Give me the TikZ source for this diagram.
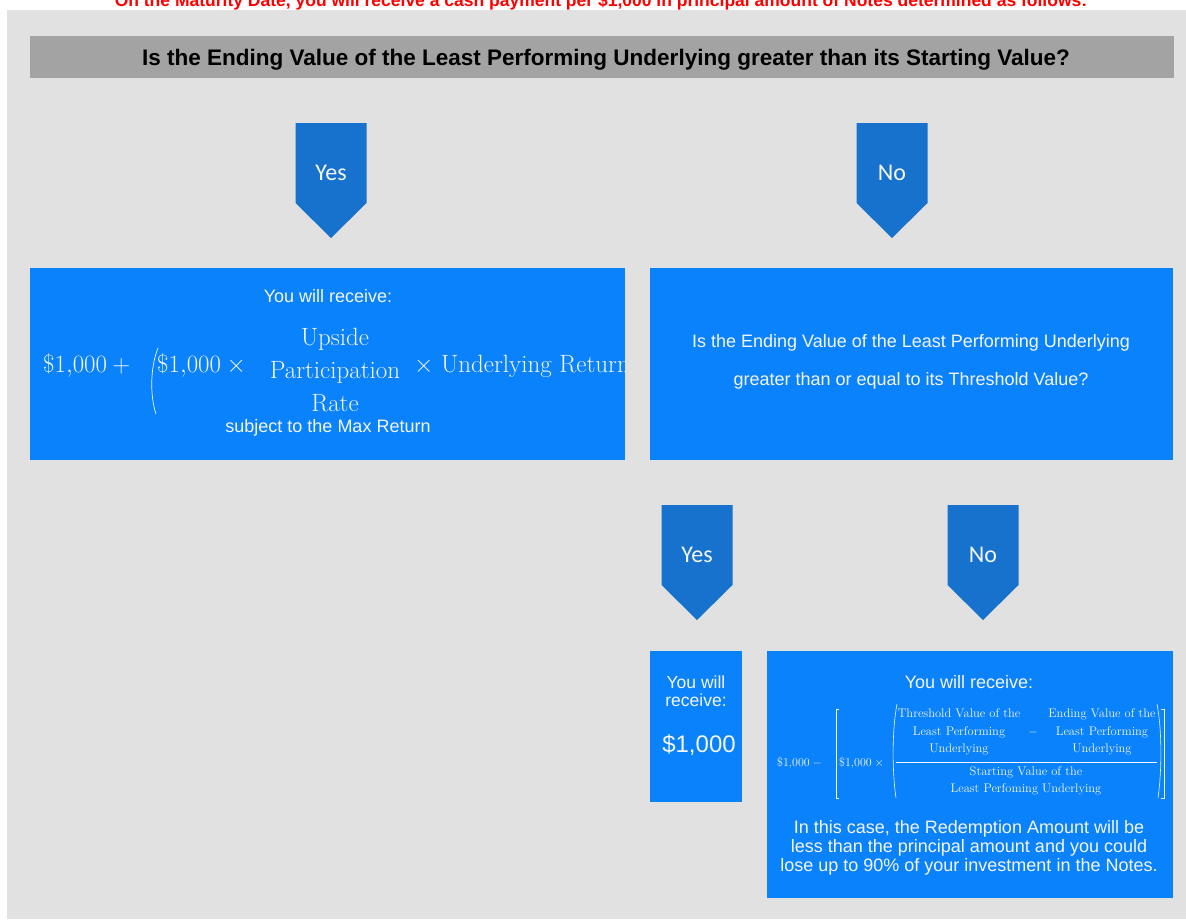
\documentclass[tikz,border=0pt]{standalone}
\usepackage{fontspec}
\setsansfont{Liberation Sans}
\newfontfamily\calib{Carlito}
\usepackage{amsmath}
\usepackage{tikz}
\usetikzlibrary{positioning}
\definecolor{pagegrey}{HTML}{E1E1E1}
\definecolor{bargrey}{HTML}{A3A3A3}
\definecolor{boxblue}{HTML}{0A82FC}
\definecolor{tipblue}{HTML}{1672CC}
\definecolor{softwhite}{HTML}{F4F6FA}
\tikzset{
	panel/.style={rectangle, fill=boxblue, anchor=north west, inner sep=0pt},
	choice/.style={text=softwhite, font=\calib\fontsize{24}{26}\selectfont},
	plain/.style={text=softwhite, font=\sffamily\fontsize{18}{19}\selectfont, align=center, inner sep=0pt},
	formula/.style={text=softwhite, font=\rmfamily\fontsize{25}{33}\selectfont, inner sep=0pt},
	small/.style={text=softwhite, font=\rmfamily\fontsize{12.5}{17.5}\selectfont, inner sep=0pt},
	delim/.style={draw=softwhite, line width=0.9pt}
}

\begin{document}
\begin{tikzpicture}[x=1pt,y=-1pt]
		\useasboundingbox (0,0) rectangle (1186,919);
		\clip (0,0) rectangle (1186,919);
		
		% Fond
		\fill[pagegrey] (7,10) rectangle (1186,919);
		\node[text=red, font=\sffamily\bfseries\fontsize{17.5}{20}\selectfont, anchor=base] (header) at (601,6.5)
			{On the Maturity Date, you will receive a cash payment per \$1,000 in principal amount of Notes determined as follows:};
		
		% Question principale
		\node[rectangle, fill=bargrey, minimum width=1144, minimum height=42, anchor=north west] (question) at (30,36) {};
		\node[font=\sffamily\bfseries\fontsize{22.5}{24}\selectfont, anchor=base] (questiontext) at (606,65) {Is the Ending Value of the Least Performing Underlying greater than its Starting Value?};
		
		% Fleches oui / non
		\foreach \nm/\cx/\cy/\lbl in {yesA/331/123/Yes, noA/892/123/No, yesB/697/505/Yes, noB/983/505/No}{
			\fill[tipblue] (\cx-35.5,\cy) -- (\cx+35.5,\cy) -- (\cx+35.5,\cy+80) -- (\cx,\cy+115) -- (\cx-35.5,\cy+80) -- cycle;
			\node[choice] (\nm) at (\cx,\cy+50) {\lbl};
		}
		
		% Cadres
		\node[panel, minimum width=595, minimum height=192] (gainbox) at (30,268) {};
		\node[panel, minimum width=523, minimum height=192] (testbox) at (650,268) {};
		\node[panel, minimum width=92, minimum height=151] (parbox) at (650,651) {};
		\node[panel, minimum width=406, minimum height=247] (lossbox) at (767,651) {};
		
		% Cadre gain
		\node[plain] (gainhead) at (328,296) {You will receive:};
		\begin{scope}
			\clip (30,268) rectangle (625,460);
			\node[formula, anchor=base west] (gainlead) at (43,372) {$\$1{,}000 + {}$};
			\draw[delim, line width=0.7pt] (158,348) .. controls (150,368) and (150,396) .. (156,414);
			\node[formula, anchor=base west] (gainbase) at (157,372) {$\$1{,}000 \times {}$};
			\node[formula, align=center] (gainrate) at (335,370) {Upside\\Participation\\Rate};
			\node[formula, anchor=base west] (gainret) at (414,372) {$\times$ Underlying Return};
		\end{scope}
		\node[plain] (gaincap) at (328,428) {subject to the Max Return};
		
		% Cadre seuil
		\node[plain, font=\sffamily\fontsize{18}{38}\selectfont] (testtext) at (911,362)
			{Is the Ending Value of the Least Performing Underlying\\greater than or equal to its Threshold Value?};
		
		% Cadre au pair
		\node[plain, font=\sffamily\fontsize{17.5}{18}\selectfont] (parhead) at (696,691) {You will\\receive:};
		\node[plain, font=\sffamily\fontsize{24}{26}\selectfont] (paramount) at (699,745) {\$1,000};
		
		% Cadre perte
		\node[plain] (losshead) at (969,682) {You will receive:};
		\node[small, anchor=west] (losslead) at (777,763) {$\$1{,}000 - {}$};
		\node[small, anchor=west] (lossbase) at (839,763) {$\$1{,}000 \times {}$};
		\node[small, align=center] (lossthr) at (959,732) {Threshold Value of the\\Least Performing\\Underlying};
		\node[small] (lossminus) at (1033,732) {$-$};
		\node[small, align=center] (lossend) at (1102,732) {Ending Value of the\\Least Performing\\Underlying};
		\node[small, align=center] (lossstart) at (1026,781) {Starting Value of the\\Least Perfoming Underlying};
		\draw[delim, line width=0.5pt] (896,762) -- (1157,762);
		\draw[delim] (839,709) -- (836,709) -- (836,798) -- (839,798);
		\draw[delim, line width=0.6pt] (897,704) .. controls (892,730) and (892,770) .. (896,798);
		\draw[delim, line width=0.6pt] (1157,704) .. controls (1162,730) and (1162,770) .. (1158,798);
		\draw[delim] (1161,709) -- (1164,709) -- (1164,798) -- (1161,798);
		\node[plain] (lossnote) at (969,848)
			{In this case, the Redemption Amount will be\\less than the principal amount and you could\\lose up to 90\% of your investment in the Notes.};
		
	\end{tikzpicture}
\end{document}
